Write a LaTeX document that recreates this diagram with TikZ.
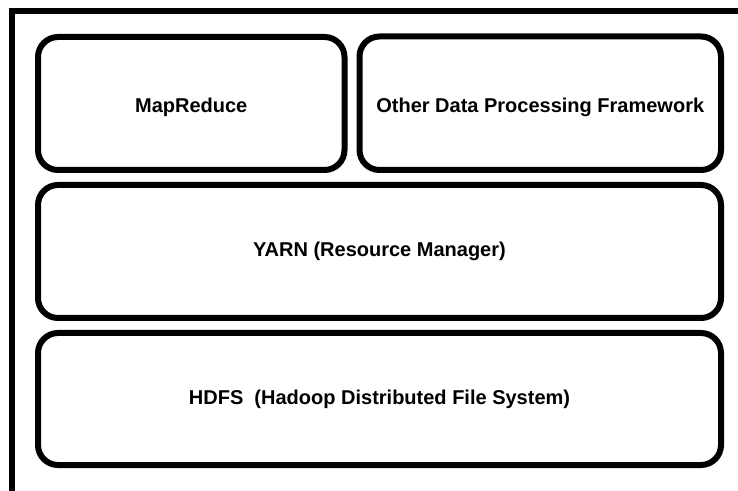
\documentclass[tikz,border=0pt]{standalone}
\usepackage{fontspec}
\setmainfont{Liberation Sans}
\begin{document}
\begin{tikzpicture}[x=1pt,y=1pt,
  layer/.style={draw=black, line width=6pt, rounded corners=20pt, fill=white,
    font=\bfseries\fontsize{20}{24}\selectfont, inner sep=0pt},
  lowtext/.style={text height=19pt, text depth=0pt}]
\useasboundingbox (0,0) rectangle (738,490);
% outer frame (only top and left edges visible)
\draw[line width=6pt] (11.5,-5) -- (11.5,479) -- (745,479);
% stack layers, bottom to top
\node[layer, minimum width=683pt, minimum height=132pt] (hdfs) at (379.5,91)
  {HDFS\ \ (Hadoop Distributed File System)};
\node[layer, minimum width=683pt, minimum height=133pt] (yarn) at (379.5,238.5)
  {YARN (Resource Manager)};
\node[layer, lowtext, minimum width=306.5pt, minimum height=133pt] (mr) at (191.25,386.5)
  {MapReduce};
\node[layer, lowtext, minimum width=361.5pt, minimum height=133.5pt] (other) at (540.25,386.75)
  {Other Data Processing Framework};
\end{tikzpicture}
\end{document}
